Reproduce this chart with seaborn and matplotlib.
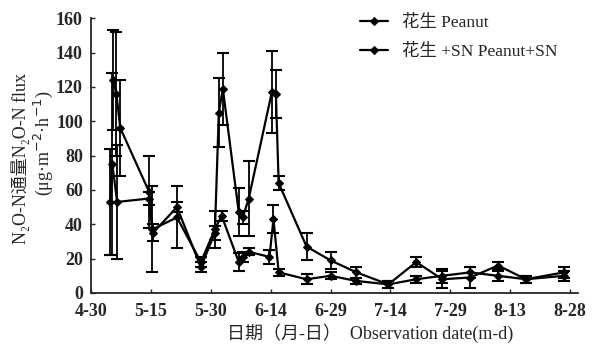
import matplotlib
matplotlib.use('Agg')
import matplotlib.pyplot as plt
import seaborn as sns
import pandas as pd

# days after 4-30
peanut_day = [4.8, 5.3, 6.5, 14.5, 15.3, 21.5, 27.5, 31.0, 32.7, 37.0, 38.0, 39.5, 44.7, 45.7, 47.0,
              54.0, 60.0, 66.5, 74.5, 81.5, 88.0, 95.0, 102.0, 109.0, 118.5]
peanut_flux = [53, 75, 53, 55, 37, 44, 18, 37, 45, 18, 21, 24, 21, 43, 12,
               8, 10, 7, 5, 18, 8, 9, 16, 8, 10]
peanut_err = [31, 53, 33, 4, 25, 18, 3, 11, 3, 5, 3, 2, 4, 8, 2,
              3, 2, 2, 2, 3, 5, 6, 2, 2, 3]

sn_day = [5.5, 6.3, 7.3, 14.5, 15.5, 21.5, 27.5, 31.0, 32.0, 33.0, 37.0, 38.0, 39.5, 45.3, 46.3, 47.0,
          54.0, 60.0, 66.5, 74.5, 81.5, 88.0, 95.0, 102.0, 109.0, 118.5]
sn_flux = [124, 116, 96, 59, 35, 50, 15, 35, 105, 119, 47, 44, 55, 117, 116, 64,
           27, 19, 12, 5, 8, 10, 12, 10, 8, 12]
sn_err = [29, 36, 28, 21, 5, 3, 3, 4, 20, 21, 14, 4, 22, 24, 14, 4,
          8, 5, 3, 2, 2, 4, 3, 3, 2, 3]

tick_days = [0, 15, 30, 45, 60, 75, 90, 105, 120]
tick_labels = ['4-30', '5-15', '5-30', '6-14', '6-29', '7-14', '7-29', '8-13', '8-28']
series_names = ['花生 Peanut', '花生 +SN Peanut+SN']

sns.set_style('ticks')
fam = ['Liberation Serif', 'Noto Sans CJK SC']
plt.rcParams['font.family'] = fam

fig = plt.figure(figsize=(6, 3.56), dpi=100)
ax = fig.add_axes([0.152, 0.177, 0.811, 0.772])

for name, d, v, e in [(series_names[0], peanut_day, peanut_flux, peanut_err),
                      (series_names[1], sn_day, sn_flux, sn_err)]:
    df = pd.DataFrame({'day': d, 'flux': v})
    ax.errorbar(d, v, yerr=e, fmt='none', ecolor='black', elinewidth=1.3, capsize=4, capthick=1.5)
    sns.lineplot(data=df, x='day', y='flux', ax=ax, color='black', lw=1.6, marker='D',
                 markersize=4.5, markeredgecolor='black', label=name, sort=True)

ax.set_xlim(0, 122)
ax.set_ylim(0, 160)
ax.set_xticks(tick_days)
ax.set_xticklabels(tick_labels)
ax.set_yticks(range(0, 161, 20))
ax.tick_params(direction='in', length=3, width=1, labelsize=13)
ax.tick_params(axis='x', pad=7)
ax.tick_params(axis='y', pad=6)
for lab in ax.get_xticklabels() + ax.get_yticklabels():
    lab.set_fontweight('bold')
ax.spines['top'].set_visible(False)
ax.spines['right'].set_visible(False)
ax.spines['left'].set_linewidth(1.3)
ax.spines['bottom'].set_linewidth(1.3)
ax.set_xlabel('')
ax.set_ylabel('')

leg = ax.legend(loc='upper left', bbox_to_anchor=(0.52, 1.07), frameon=False, fontsize=12.5,
                handlelength=1.6, labelspacing=0.75, handletextpad=0.8)

fig.text(0.617, 0.064, '日期（月-日）  Observation date(m-d)', ha='center', va='center', fontsize=13)
fig.text(0.035, 0.556, 'N₂O-N通量N₂O-N flux', rotation=90, ha='center', va='center', fontsize=13)
fig.text(0.072, 0.598, '(μg·m$^{-2}$·h$^{-1}$)', rotation=90, ha='center', va='center', fontsize=13)

fig.savefig('out.png', dpi=100)
